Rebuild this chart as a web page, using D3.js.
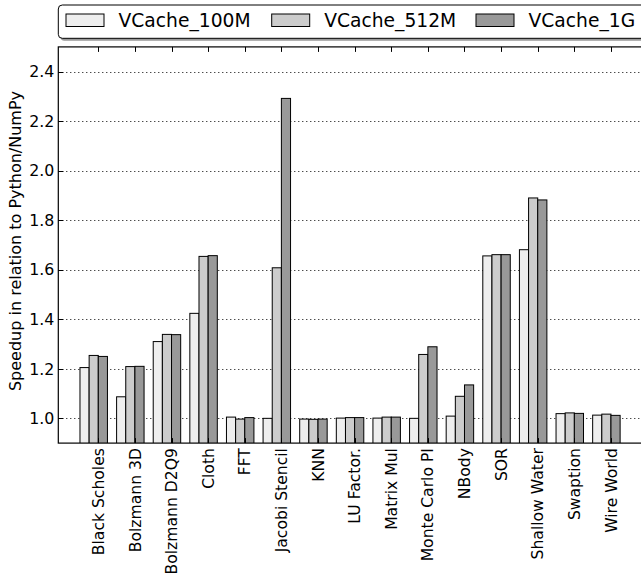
<!DOCTYPE html>
<html><head><meta charset="utf-8">
<script src="https://cdn.jsdelivr.net/npm/d3@7/dist/d3.min.js"></script>
<style>body{margin:0;background:#fff}svg{display:block}text{font-family:"DejaVu Sans",sans-serif;fill:#000}</style>
</head><body><svg id="c" width="641" height="579"></svg>
<script>
const categories = ["Black Scholes","Bolzmann 3D","Bolzmann D2Q9","Cloth","FFT","Jacobi Stencil","KNN","LU Factor.","Matrix Mul","Monte Carlo PI","NBody","SOR","Shallow Water","Swaption","Wire World"];
const seriesNames = ["VCache_100M","VCache_512M","VCache_1G"];
const vcache100M = [1.205,1.087,1.310,1.424,1.005,1.000,0.997,1.001,1.001,1.000,1.009,1.656,1.681,1.019,1.013];
const vcache512M = [1.254,1.209,1.339,1.654,0.997,1.608,0.996,1.003,1.005,1.258,1.089,1.661,1.890,1.022,1.017];
const vcache1G   = [1.250,1.210,1.338,1.657,1.003,2.292,0.997,1.003,1.005,1.289,1.135,1.661,1.882,1.020,1.012];
const yTicks = [1.0,1.2,1.4,1.6,1.8,2.0,2.2,2.4];
const colors = ["#eeeeee","#cccccc","#999999"];
const series = [vcache100M, vcache512M, vcache1G];

const svg = d3.select("#c");
const L = 58.3, T = 46.9, B = 443.1, R = 660;
const barW = 0.25;
const x = d3.scaleLinear().domain([-0.592, (R - L)/36.62 - 0.592]).range([L, R]);
const y = d3.scaleLinear().domain([0.9, 2.5]).range([B, T]);

const defs = svg.append("defs");
defs.append("clipPath").attr("id","clip").append("rect").attr("x",L).attr("y",T).attr("width",R-L).attr("height",B-T);

// grid
svg.append("g").selectAll("line").data(yTicks).join("line")
  .attr("x1",L).attr("x2",R).attr("y1",d=>Math.round(y(d))+0.5).attr("y2",d=>Math.round(y(d))+0.5)
  .attr("stroke","#000").attr("stroke-width",1).attr("stroke-dasharray","1,3");

// bars
const gb = svg.append("g").attr("clip-path","url(#clip)");
series.forEach((s,j)=>{
  gb.append("g").selectAll("rect").data(s).join("rect")
    .attr("x",(d,i)=>x(i + j*barW))
    .attr("width",x(barW)-x(0))
    .attr("y",d=>y(d))
    .attr("height",d=>y(0.9)-y(d)+2)
    .attr("fill",colors[j]).attr("stroke","#000").attr("stroke-width",1);
});

// ticks
const tickX = categories.map((c,i)=>i+0.5);
svg.append("g").selectAll("line").data(tickX).join("line")
  .attr("x1",d=>Math.round(x(d))+0.5).attr("x2",d=>Math.round(x(d))+0.5)
  .attr("y1",T).attr("y2",T+5).attr("stroke","#000");
svg.append("g").selectAll("line").data(tickX).join("line")
  .attr("x1",d=>Math.round(x(d))+0.5).attr("x2",d=>Math.round(x(d))+0.5)
  .attr("y1",B).attr("y2",B-5).attr("stroke","#000");
svg.append("g").selectAll("line").data(yTicks).join("line")
  .attr("x1",L).attr("x2",L+5).attr("y1",d=>Math.round(y(d))+0.5).attr("y2",d=>Math.round(y(d))+0.5)
  .attr("stroke","#000");

// frame
svg.append("rect").attr("x",L).attr("y",T).attr("width",R-L).attr("height",B-T)
  .attr("fill","none").attr("stroke","#000").attr("stroke-width",1.2);

// y tick labels
svg.append("g").selectAll("text").data(yTicks).join("text")
  .attr("x",L-4).attr("y",d=>y(d)).attr("dy","0.36em").attr("text-anchor","end")
  .style("font-size","15.8px").text(d=>d.toFixed(1));

// x labels
svg.append("g").selectAll("text").data(categories).join("text")
  .attr("transform",(d,i)=>`translate(${x(i+0.5)},${B+5}) rotate(-90)`)
  .attr("text-anchor","end").attr("dy","0.36em")
  .style("font-size","15.6px").text(d=>d);

// y label
svg.append("text").attr("transform",`translate(15,241) rotate(-90)`)
  .attr("text-anchor","middle").attr("dy","0.36em").style("font-size","16px")
  .text("Speedup in relation to Python/NumPy");

// legend
const lg = svg.append("g");
lg.append("rect").attr("x",60.5).attr("y",7.5).attr("width",640).attr("height",33.3).attr("rx",4)
  .attr("fill","#999");
lg.append("rect").attr("x",58.3).attr("y",5).attr("width",640).attr("height",33.3).attr("rx",4)
  .attr("fill","#fff").attr("stroke","#000").attr("stroke-width",1);
const legX = [66, 271.7, 476];
seriesNames.forEach((n,j)=>{
  lg.append("rect").attr("x",legX[j]).attr("y",14).attr("width",38).attr("height",12.5)
    .attr("fill",colors[j]).attr("stroke","#000").attr("stroke-width",1);
  lg.append("text").attr("x",legX[j]+52.5).attr("y",27.3).style("font-size","18.7px").text(n);
});
</script></body></html>
